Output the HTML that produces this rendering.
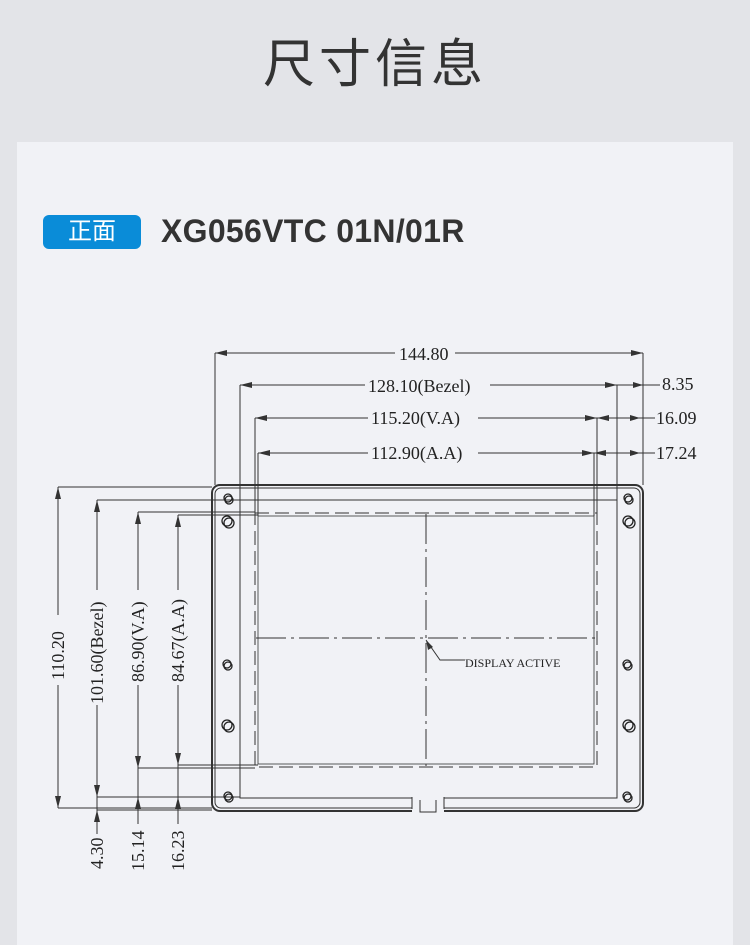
<!DOCTYPE html>
<html><head><meta charset="utf-8"><style>
html,body{margin:0;padding:0}
body{width:750px;height:945px;background:#e3e4e8;position:relative;overflow:hidden;font-family:"Liberation Sans","Noto Sans CJK SC",sans-serif}
.h{position:absolute;top:22px;left:0;width:750px;text-align:center;font-size:52px;color:#333;letter-spacing:4px;font-family:"Liberation Sans","Noto Sans CJK SC",sans-serif}
.card{position:absolute;left:17px;top:142px;width:716px;height:803px;background:#f1f2f6}
.badge{position:absolute;left:43px;top:215px;width:98px;height:34px;background:#0a8cd8;border-radius:6px;color:#fff;font-size:24px;line-height:34px;text-align:center}
.t{position:absolute;left:161px;top:213px;font-size:32px;font-weight:bold;color:#333;line-height:36px;letter-spacing:0.3px}
svg{position:absolute;left:0;top:0}
</style></head><body>
<div class="h">尺寸信息</div>
<div class="card"></div>
<div class="badge">正面</div>
<div class="t">XG056VTC 01N/01R</div>
<svg width="750" height="945" viewBox="0 0 750 945" font-family="Liberation Serif, serif" font-size="18" fill="#222">
<g stroke="#333" stroke-width="1" fill="none">
<rect x="212" y="485" width="431" height="326" rx="8" stroke-width="2"/>
<rect x="215" y="488" width="425" height="320" rx="6"/>
<rect x="240" y="500" width="377" height="298"/>
<rect x="255" y="513" width="342" height="254" stroke-dasharray="14,6"/>
<rect x="258" y="516" width="336" height="248" stroke-width="0.8"/>
<line x1="426" y1="514" x2="426" y2="766" stroke-dasharray="30,5,3,5"/>
<line x1="256" y1="638" x2="596" y2="638" stroke-dasharray="30,5,3,5"/>
<rect x="412" y="797" width="32" height="16" fill="#f1f2f6" stroke="none"/>
<path d="M412 797 V809 M444 797 V809 M420 800 V812 H436 V800"/>
<path d="M215 353 V485 M643 353 V485 M240 385 V500 M617 385 V500 M255 418 V513 M597 418 V513 M258 453 V516 M594 453 V516"/>
<path d="M215 353 H643 M240 385 H617 M617 385 H660 M255 418 H597 M597 418 H655 M258 453 H594 M594 453 H655"/>
<path d="M58 487 H212 M97 500 H240 M138 512 H255 M178 515 H258 M138 768 H255 M178 765 H258 M97 797 H240 M58 808 H212 M97 810 H212"/>
<path d="M58 487 V808 M97 500 V870 M138 512 V870 M178 515 V870"/>
<path d="M426 640 L440 660 H465"/>
</g>
<rect x="395" y="343" width="60" height="18" fill="#f1f2f6"/>
<rect x="365" y="375" width="125" height="18" fill="#f1f2f6"/>
<rect x="368" y="408" width="110" height="18" fill="#f1f2f6"/>
<rect x="368" y="443" width="110" height="18" fill="#f1f2f6"/>
<rect x="48" y="615" width="20" height="70" fill="#f1f2f6"/>
<rect x="87" y="590" width="20" height="115" fill="#f1f2f6"/>
<rect x="128" y="590" width="20" height="95" fill="#f1f2f6"/>
<rect x="168" y="590" width="20" height="95" fill="#f1f2f6"/>
<rect x="87" y="834" width="20" height="40" fill="#f1f2f6"/>
<rect x="128" y="824" width="20" height="50" fill="#f1f2f6"/>
<rect x="168" y="824" width="20" height="50" fill="#f1f2f6"/>
<text x="399" y="360">144.80</text>
<text x="368" y="392">128.10(Bezel)</text>
<text x="371" y="424">115.20(V.A)</text>
<text x="371" y="459">112.90(A.A)</text>
<text x="662" y="390">8.35</text>
<text x="656" y="424">16.09</text>
<text x="656" y="459">17.24</text>
<text x="465" y="667" font-size="12">DISPLAY ACTIVE</text>
<g transform="rotate(-90)">
<text x="-680" y="64">110.20</text>
<text x="-704" y="103">101.60(Bezel)</text>
<text x="-682" y="144">86.90(V.A)</text>
<text x="-682" y="184">84.67(A.A)</text>
<text x="-869" y="103">4.30</text>
<text x="-871" y="144">15.14</text>
<text x="-871" y="184">16.23</text>
</g>
<g fill="#333">
<path d="M215 353 l12 -3 v6z M643 353 l-12 -3 v6z M240 385 l12 -3 v6z M617 385 l-12 -3 v6z M643 385 l-10 -3 v6z M255 418 l12 -3 v6z M597 418 l-12 -3 v6z M597 418 l12 -3 v6z M640 418 l-10 -3 v6z M258 453 l12 -3 v6z M594 453 l-12 -3 v6z M594 453 l12 -3 v6z M640 453 l-10 -3 v6z"/>
<path d="M58 487 l-3 12 h6z M58 808 l-3 -12 h6z M97 500 l-3 12 h6z M97 797 l-3 -12 h6z M97 810 l-3 12 h6z M138 512 l-3 12 h6z M138 768 l-3 -12 h6z M138 797 l-3 12 h6z M178 515 l-3 12 h6z M178 765 l-3 -12 h6z M178 797 l-3 12 h6z M426 640 l2 10 l5 -3z"/>
</g>
<g stroke="#222" stroke-width="1.3" fill="none">
<circle cx="228" cy="498" r="4"/><circle cx="229" cy="500" r="4"/>
<circle cx="227" cy="521" r="5"/><circle cx="229" cy="523" r="5"/>
<circle cx="227" cy="664" r="4"/><circle cx="228" cy="666" r="4"/>
<circle cx="227" cy="725" r="5"/><circle cx="229" cy="727" r="5"/>
<circle cx="228" cy="796" r="4"/><circle cx="229" cy="798" r="4"/>
<circle cx="628" cy="498" r="4"/><circle cx="629" cy="500" r="4"/>
<circle cx="628" cy="521" r="5"/><circle cx="630" cy="523" r="5"/>
<circle cx="627" cy="664" r="4"/><circle cx="628" cy="666" r="4"/>
<circle cx="628" cy="725" r="5"/><circle cx="630" cy="727" r="5"/>
<circle cx="627" cy="796" r="4"/><circle cx="628" cy="798" r="4"/>
</g>
</svg>
</body></html>
